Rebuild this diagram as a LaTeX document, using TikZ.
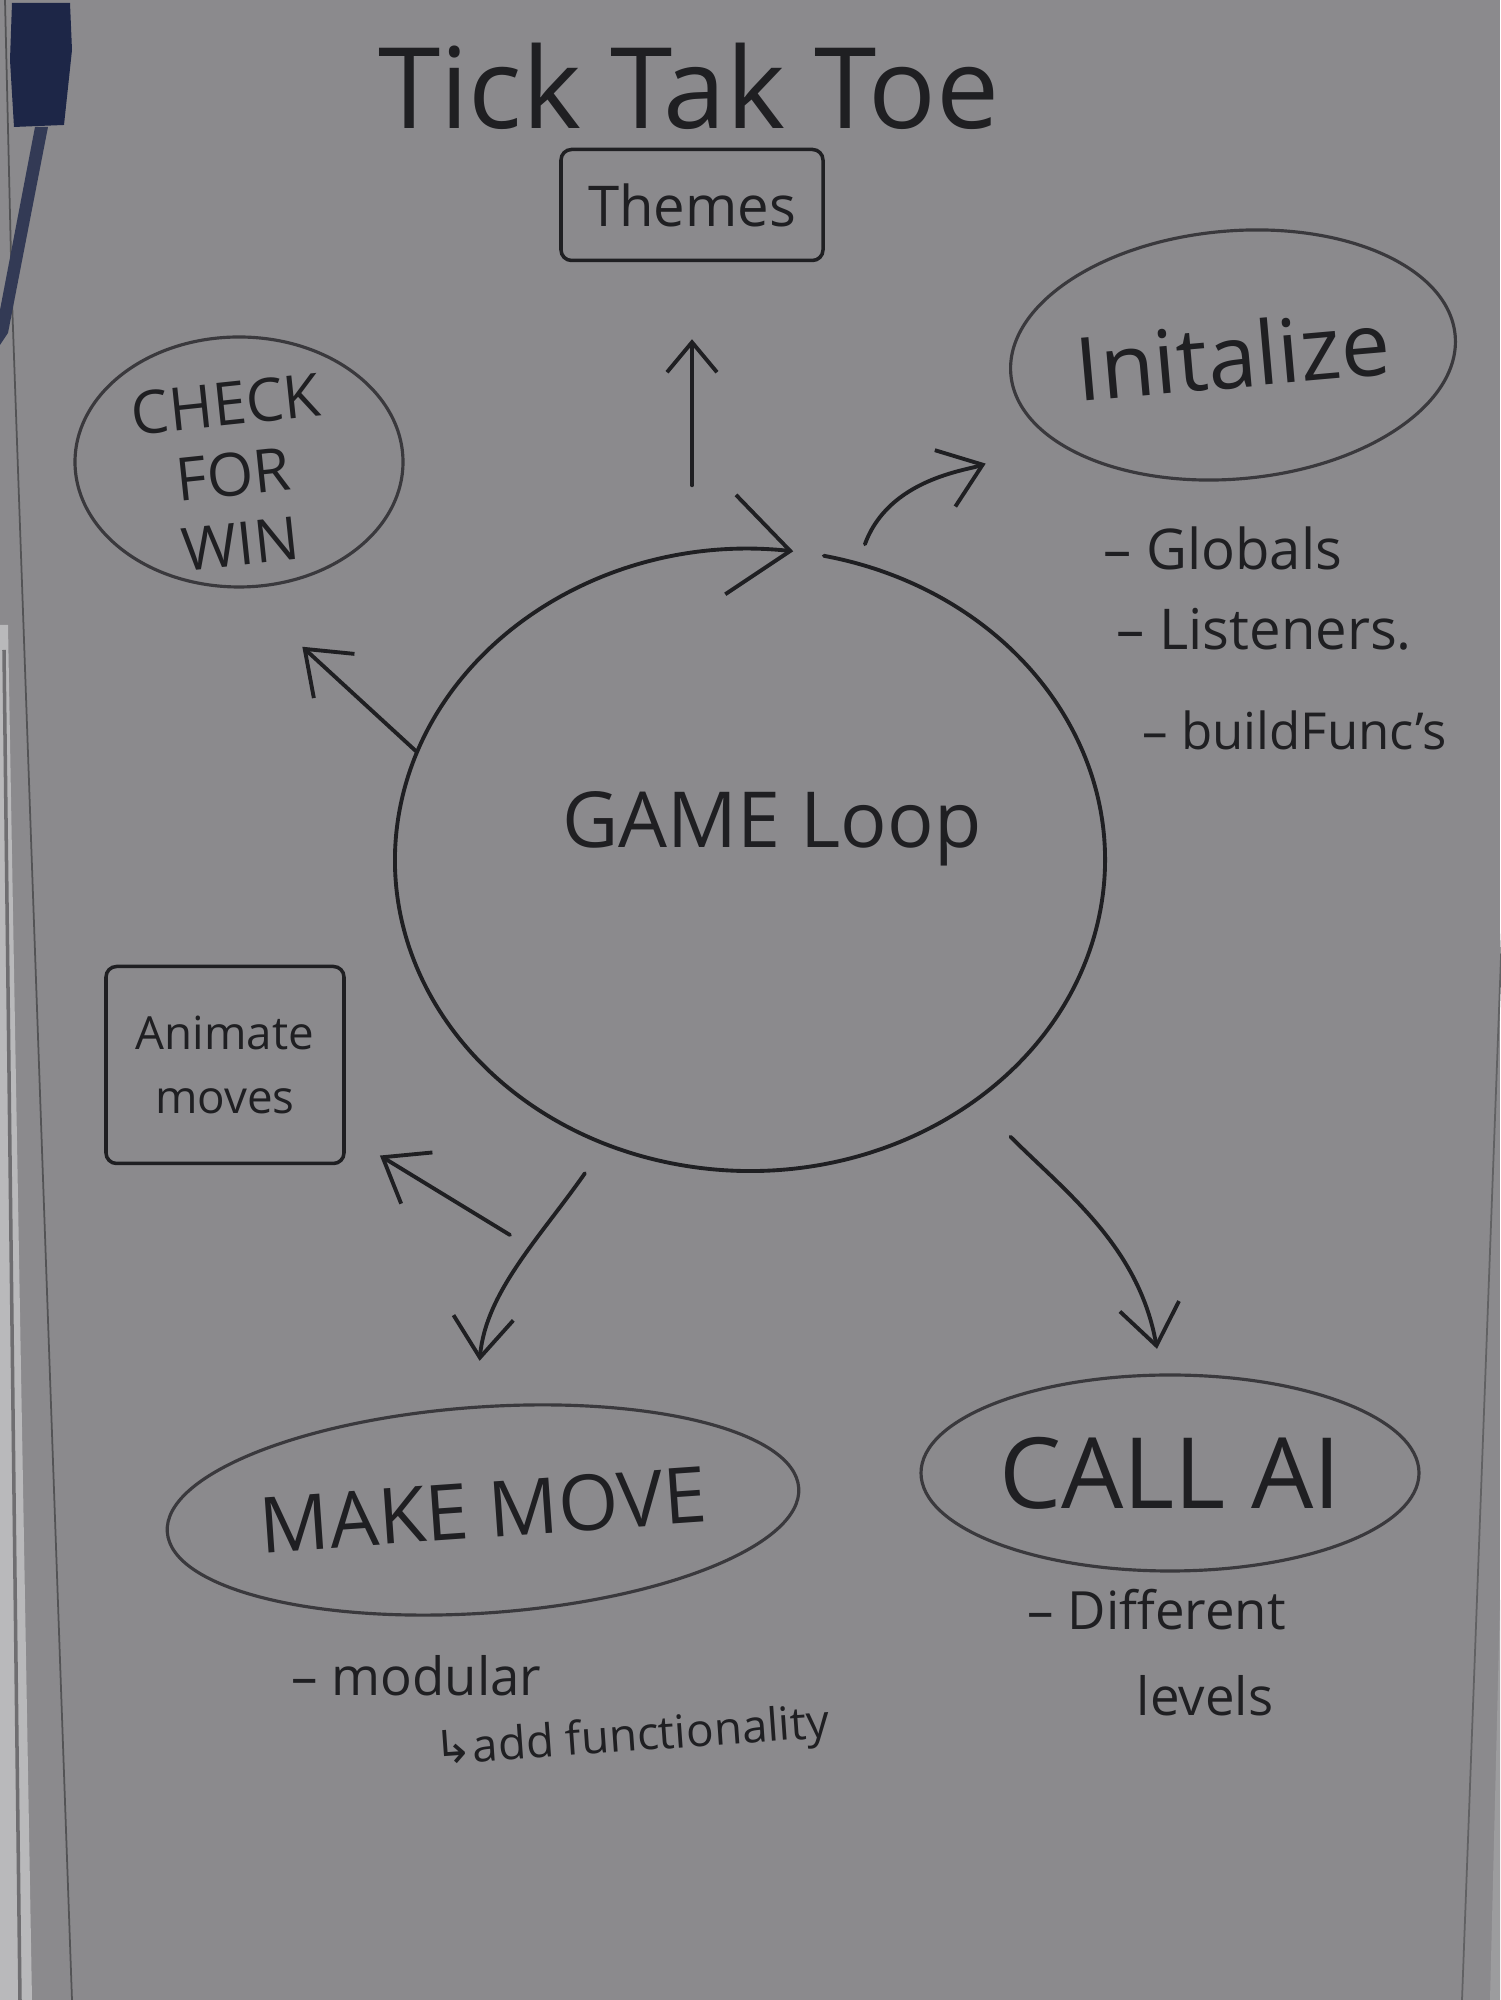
\documentclass[tikz,border=0pt]{standalone}
\usepackage{fontspec}
\setmainfont{Open Sans}
\newfontfamily\symfont{DejaVu Sans}
\usetikzlibrary{arrows.meta, shapes.geometric, positioning}
\definecolor{board}{HTML}{8B8A8D}
\definecolor{ink}{HTML}{1F1F22}
\definecolor{rim}{HTML}{3A393D}
\definecolor{marker}{HTML}{1D2647}
\newcommand{\fs}[1]{\fontsize{#1}{#1}\selectfont}
\tikzset{
    pen/.style={draw=ink, line width=1.1pt, line cap=round, line join=round}, % marker stroke
    blob/.style={ellipse, draw=rim, line width=0.9pt, inner sep=0pt, text=ink}, % hand drawn ellipses
    box/.style={rectangle, draw=ink, line width=1pt, rounded corners=3pt, inner sep=0pt, text=ink},
    ring/.style={ellipse, minimum width=7.1cm, minimum height=6.22cm, inner sep=0pt},
    arr/.style={pen, -{Straight Barb[length=4mm, width=6mm]}},
    note/.style={anchor=west, text=ink, inner sep=0pt, font=\fs{16}}
}

\begin{document}
\begin{tikzpicture}
    \def\W{15} \def\H{20}
    \fill[board] (0,0) rectangle (\W,\H);
    \useasboundingbox (0,0) rectangle (\W,\H);

    % board frame and marker
    \fill[board!60!white] (0,13.75) -- (0.08,13.75) -- (0.32,0) -- (0,0) -- cycle;
    \draw[board!80!black, line width=1pt] (0.04,13.5) -- (0.2,0);
    \draw[board!60!black, line width=0.5pt] (0.05,\H) -- (0.12,17) -- (0.72,0);
    \draw[board!70!black, line width=0.5pt] (15.02,10.7) -- (14.62,0);
    \fill[board!85!white] (15,4) -- (14.9,0) -- (15,0) -- cycle;
    \fill[marker] (0.12,19.97) -- (0.70,19.97) -- (0.72,19.5) -- (0.64,18.75) -- (0.14,18.73) -- (0.10,19.4) -- cycle;
    \fill[marker!80!board] (0.35,18.73) -- (0.48,18.73) -- (0.08,16.67) -- (0,16.55) -- (0,16.9) -- cycle;

    % title and themes
    \node[text=ink, font=\fs{32}] (title) at (6.89,19.14) {Tick Tak Toe};
    \node[box, minimum width=2.62cm, minimum height=1.11cm, font=\fs{16}] (themes) at (6.92,17.95) {Themes};

    % game loop
    \node[ring] (loop) at (7.5,11.4) {};
    \node[text=ink, font=\fs{22}] (looptxt) at (7.72,11.71) {GAME Loop};
    \draw[pen, -{Straight Barb[length=6mm, width=10mm]}] (loop.center) ++(78:3.55cm and 3.11cm)
        arc[start angle=78, end angle=-277, x radius=3.55cm, y radius=3.11cm];

    % initalize
    \node[blob, minimum width=4.38cm, minimum height=2.48cm, rotate=5, font=\fs{25}] (init) at (12.33,16.45) {Initalize};
    \node[note] (globals) at (11.03,14.52) {-- Globals};
    \node[note] (listeners) at (11.16,13.71) {-- Listeners.};
    \node[note, font=\fs{14.5}] (buildfuncs) at (11.42,12.70) {-- buildFunc's};

    % check for win
    \node[blob, minimum width=3.28cm, minimum height=2.5cm] (check) at (2.39,15.38) {};
    \node[text=ink, align=center, rotate=6, inner sep=0pt, font=\fontsize{17}{20}\selectfont] (checktxt) at (2.33,15.26) {CHECK\\FOR\\WIN};

    % animate moves
    \node[box, minimum width=2.38cm, minimum height=1.97cm, align=center, font=\fontsize{13}{18}\selectfont] (anim) at (2.25,9.35) {Animate\\moves};

    % make move
    \node[blob, minimum width=6.1cm, minimum height=2.06cm, rotate=4, font=\fs{22}] (move) at (4.83,4.90) {MAKE MOVE};
    \node[note, font=\fs{15}] (modular) at (2.91,3.24) {-- modular};
    \node[note, font=\fs{13}, rotate=4] (addfunc) at (4.34,2.47) {{\symfont ↳}add functionality};

    % call ai
    \node[blob, minimum width=4.98cm, minimum height=1.96cm, font=\fs{28}] (ai) at (11.70,5.27) {CALL AI};
    \node[note, font=\fs{15}] (diff) at (10.27,3.90) {-- Different};
    \node[text=ink, font=\fs{15}] (levels) at (12.05,3.04) {levels};

    % connectors
    \coordinate (branch) at (5.10,7.65);
    \draw[arr, -{Straight Barb[length=3mm, width=5mm]}, shorten <=6.3mm, shorten >=7.7mm] (loop.north -| themes.south) -- (themes.south);
    \draw[arr, shorten <=2mm, shorten >=7mm] (loop.70) to[out=70, in=200] (init.200);
    \draw[arr, shorten >=8.6mm] (loop.162) -- (check.south);
    \draw[arr, shorten <=3.5mm, shorten >=4.5mm] (loop.243) to[out=-125, in=85] (move.north);
    \draw[arr, shorten >=4mm] (branch) -- (anim.-30);
    \draw[arr, shorten <=5mm, shorten >=2.5mm] (loop.-47) to[out=-45, in=100] (ai.95);
\end{tikzpicture}
\end{document}
